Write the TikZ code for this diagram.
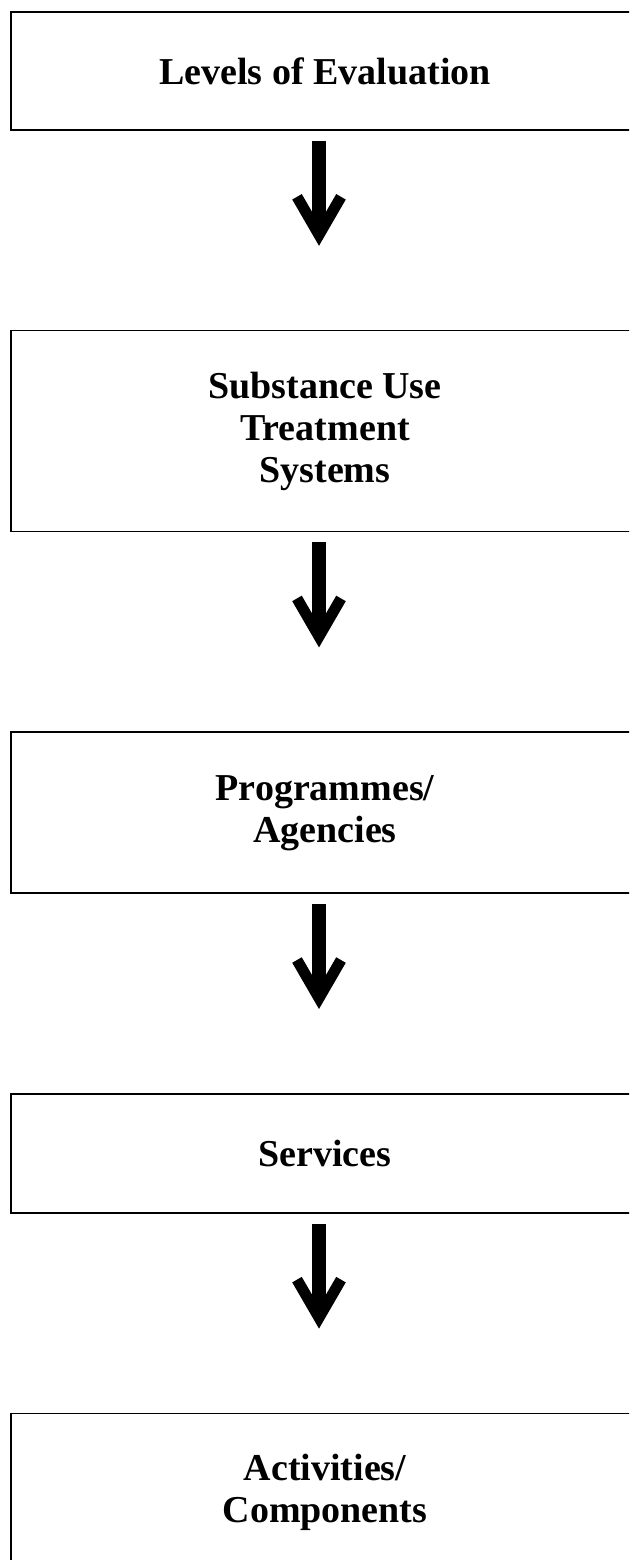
\documentclass[tikz,border=0pt]{standalone}
\usepackage{fontspec}
\setmainfont{Liberation Serif}
\usetikzlibrary{positioning}
\usetikzlibrary{arrows.meta}

\begin{document}
\begin{tikzpicture}[
                x=1pt, y=1pt,
                node distance=199pt,
                levelbox/.style={draw, line width=1.6pt, minimum width=628pt, align=center,
                    font=\bfseries\fontsize{38}{42}\selectfont},
                downarrow/.style={line width=14pt, shorten <=10pt, shorten >=84pt,
                    -{Straight Barb[length=38pt, width=44pt, line width=11pt, line join=miter]}}
            ]

            \useasboundingbox (0,0) rectangle (629,-1560);
            \clip (0,0) rectangle (629,-1560);

            % Define nodes
            \node[levelbox, minimum height=118pt] (levels) at (325,-71) {Levels of Evaluation};
            \node[levelbox, minimum height=201pt, below=of levels] (systems) {Substance Use\\Treatment\\Systems};
            \node[levelbox, minimum height=161pt, below=of systems] (programmes) {Programmes/\\Agencies};
            \node[levelbox, minimum height=119pt, below=of programmes] (services) {Services};
            \node[levelbox, minimum height=158pt, below=of services] (activities) {Activities/\\Components};

            % Arrows connecting boxes
            \draw[downarrow] ([xshift=-6pt]levels.south) -- ([xshift=-6pt]systems.north);
            \draw[downarrow] ([xshift=-6pt]systems.south) -- ([xshift=-6pt]programmes.north);
            \draw[downarrow] ([xshift=-6pt]programmes.south) -- ([xshift=-6pt]services.north);
            \draw[downarrow] ([xshift=-6pt]services.south) -- ([xshift=-6pt]activities.north);

\end{tikzpicture}
\end{document}
